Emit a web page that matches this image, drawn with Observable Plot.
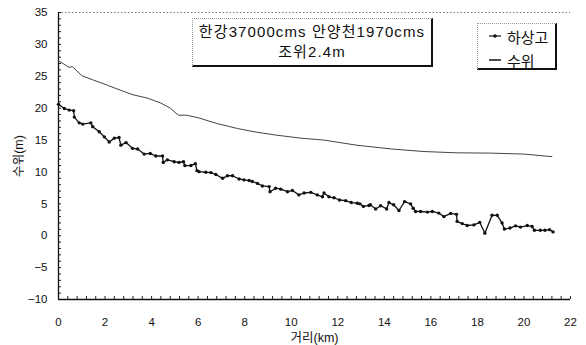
<!DOCTYPE html>
<html>
<head>
<meta charset="utf-8">
<script src="https://cdn.jsdelivr.net/npm/d3@7"></script>
<script src="https://cdn.jsdelivr.net/npm/@observablehq/plot@0.6"></script>
<style>
  body { margin: 0; background: #fff; }
  #wrap { position: relative; width: 586px; height: 345px; font-family: "Liberation Sans", "Noto Sans CJK KR", sans-serif; }
  .box { position: absolute; background: #fff; box-sizing: border-box;
         border-top: 1px dotted #999; border-left: 1px dotted #999;
         border-right: 2px solid #111; border-bottom: 2px solid #111; color: #111; }
  #title { left: 192px; top: 18px; width: 241px; height: 49px; font-size: 15px; letter-spacing: 1.1px; text-align: center; line-height: 20px; padding-top: 3px; }
  #legend { left: 477px; top: 23px; width: 80px; height: 47px; font-size: 15px; }
  .li { position: absolute; left: 10px; height: 18px; display: flex; align-items: center; }
  .li svg { margin-right: 5px; }
</style>
</head>
<body>
<div id="wrap">
  <div id="chart"></div>
  <div class="box" id="title"><div>한강37000cms 안양천1970cms</div><div>조위2.4m</div></div>
  <div class="box" id="legend">
    <div class="li" style="top:3px"><svg width="14" height="8"><line x1="1" y1="4" x2="13" y2="4" stroke="#111" stroke-width="1.2"/><circle cx="7" cy="4" r="1.8" fill="#111"/></svg><span>하상고</span></div>
    <div class="li" style="top:27px"><svg width="14" height="8"><line x1="1" y1="4" x2="13" y2="4" stroke="#111" stroke-width="1.5"/></svg><span>수위</span></div>
  </div>
</div>
<script>
const bedX = [0,0.25,0.46,0.65,0.68,0.89,1.04,1.39,1.47,1.75,1.97,2.18,2.4,2.6,2.68,2.9,3.18,3.4,3.68,3.94,4.18,4.47,4.5,4.68,4.97,5.18,5.37,5.43,5.69,5.88,5.95,6.04,6.33,6.55,6.76,7.05,7.26,7.48,7.76,7.97,8.19,8.33,8.55,8.76,9.05,9.09,9.33,9.55,9.84,10.05,10.33,10.55,10.84,11.12,11.34,11.41,11.62,11.84,12.07,12.34,12.58,12.84,12.95,13.1,13.34,13.4,13.63,13.84,14.1,14.2,14.4,14.63,14.87,15.13,15.24,15.34,15.56,15.85,16.06,16.34,16.56,16.85,17.1,17.13,17.35,17.56,17.85,18.1,18.32,18.63,18.85,19.06,19.16,19.4,19.64,19.85,20.14,20.35,20.45,20.7,20.9,21.1,21.25];
const bedY = [20.6,19.95,19.7,19.6,18.6,17.7,17.5,17.7,17.1,16.3,15.5,14.7,15.3,15.4,14.2,14.6,13.7,13.6,12.8,12.9,12.5,12.5,11.5,11.9,11.6,11.5,11.6,11.0,11.0,11.3,10.2,10.05,9.95,9.9,9.6,9.0,9.4,9.4,8.9,8.75,8.65,8.5,8.2,7.8,7.7,6.9,7.45,7.3,6.9,7.1,6.4,6.7,6.8,6.4,6.1,6.7,6.1,5.95,5.6,5.5,5.2,5.1,5.0,4.6,4.75,4.85,4.2,4.7,4.2,5.2,4.85,3.95,5.35,5.0,4.3,3.8,3.8,3.7,3.8,3.55,3.0,3.5,3.35,2.25,1.9,1.6,1.7,2.1,0.4,3.2,3.2,2.0,1.05,1.2,1.55,1.35,1.6,1.45,0.85,0.85,0.85,0.95,0.6];
const wlX = [0,0.2,0.45,0.6,1.0,1.5,2.1,2.6,3.2,3.8,4.4,4.8,5.15,5.5,6.0,6.8,7.7,8.4,9.3,10.4,11.4,12.8,14.3,15.7,17.1,18.6,20.0,21.2];
const wlY = [27.4,27.0,26.4,26.5,25.1,24.4,23.6,22.9,22.1,21.6,20.8,20.0,18.9,18.9,18.5,17.6,16.8,16.3,15.8,15.3,15.0,14.2,13.6,13.2,13.0,12.95,12.8,12.4];
const xTicks = [0,2,4,6,8,10,12,14,16,18,20,22];
const yTicks = [-10,-5,0,5,10,15,20,25,30,35];
const xMinor = d3.range(0, 22.01, 0.4);
const yMinor = d3.range(-10, 35.01, 1);
const xLabel = "거리(km)";
const yLabel = "수위(m)";

const bed = bedX.map((x, i) => ({x, y: bedY[i]}));
const wl = wlX.map((x, i) => ({x, y: wlY[i]}));

const chart = Plot.plot({
  width: 586, height: 345,
  marginLeft: 58, marginRight: 16, marginTop: 12, marginBottom: 46,
  style: {fontFamily: '"Liberation Sans", "Noto Sans CJK KR", sans-serif', fontSize: "11.5px", color: "#111", background: "#fff"},
  x: {domain: [0, 22]},
  y: {domain: [-10, 35]},
  marks: [
    Plot.ruleY([35], {stroke: "#777", strokeDasharray: "1.5,2", strokeWidth: 1}),
    Plot.axisX(xMinor, {tickSize: 3, dy: -3, text: null, label: null, stroke: "#222"}),
    Plot.axisY(yMinor, {tickSize: 3, dx: 3, text: null, label: null, stroke: "#222"}),
    Plot.axisX(xTicks, {tickSize: 0, tickPadding: 18, tickFormat: d => String(d), label: null, fontSize: 11.5}),
    Plot.axisY(yTicks, {tickSize: 0, tickPadding: 11, tickFormat: d => d < 0 ? "\u2212" + (-d) : String(d), label: null, fontSize: 11.5}),
    Plot.axisX([], {label: xLabel, labelAnchor: "center", labelArrow: "none", labelOffset: 42, fontSize: 12.5}),
    Plot.axisY([], {label: yLabel, labelAnchor: "center", labelArrow: "none", labelOffset: 44, fontSize: 12.5}),
    Plot.ruleX([0], {stroke: "#111", strokeWidth: 1.3}),
    Plot.ruleY([-10], {stroke: "#111", strokeWidth: 1.3}),
    Plot.line(wl, {x: "x", y: "y", stroke: "#444", strokeWidth: 1}),
    Plot.line(bed, {x: "x", y: "y", stroke: "#111", strokeWidth: 1.3}),
    Plot.dot(bed, {x: "x", y: "y", r: 1.7, fill: "#111", stroke: "none"})
  ]
});
document.getElementById("chart").appendChild(chart);
</script>
</body>
</html>
